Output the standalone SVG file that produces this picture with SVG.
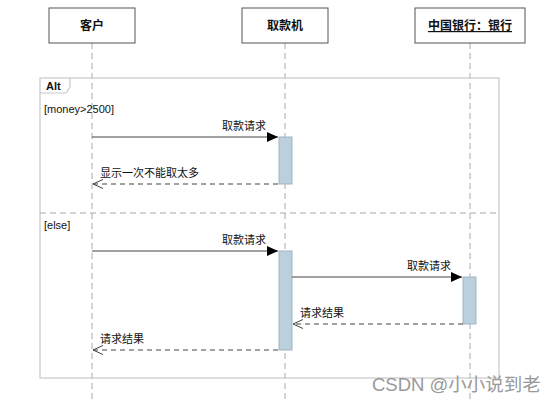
<svg xmlns="http://www.w3.org/2000/svg" width="558" height="402" viewBox="0 0 558 402">
<style>
.box{fill:#fff;stroke:#555;stroke-width:1}
.hd{font-family:"Liberation Sans","Noto Sans CJK SC",sans-serif;font-size:12px;font-weight:bold;fill:#111}
.t{font-family:"Liberation Sans","Noto Sans CJK SC",sans-serif;font-size:11px;fill:#111}
.life{stroke:#aaa;stroke-width:1;stroke-dasharray:6,4;fill:none}
.frame{fill:none;stroke:#c8c8c8;stroke-width:1.2}
.act{fill:#bccfdc;stroke:#9fb4c4;stroke-width:1}
.msg{stroke:#444;stroke-width:1;fill:none}
.ret{stroke:#444;stroke-width:1;stroke-dasharray:5,4;fill:none}
</style>
<defs>
<marker id="fill" markerWidth="12" markerHeight="12" refX="11" refY="6" orient="auto" markerUnits="userSpaceOnUse">
<path d="M0,1 L11,6 L0,11 Z" fill="#000"/>
</marker>
<marker id="open" markerWidth="12" markerHeight="12" refX="11" refY="6" orient="auto" markerUnits="userSpaceOnUse">
<path d="M1,1.5 L11,6 L1,10.5" fill="none" stroke="#444" stroke-width="1"/>
</marker>
</defs>
<rect width="558" height="402" fill="#fff"/>
<g id="lifelines">
<line class="life" x1="92" y1="43" x2="92" y2="402"/>
<line class="life" x1="285" y1="43" x2="285" y2="402"/>
<line class="life" x1="470" y1="43" x2="470" y2="402"/>
</g>
<g id="alt-frame">
<rect class="frame" x="40" y="78" width="459" height="300"/>
<path d="M40,93 L66,93 L70,87 L70,78" fill="none" stroke="#c8c8c8" stroke-width="1.2"/>
<text class="hd" x="46" y="90" style="font-size:11px">Alt</text>
<line x1="40" y1="213" x2="499" y2="213" stroke="#aaa" stroke-dasharray="6,4"/>
<text class="t" x="44" y="113">[money&gt;2500]</text>
<text class="t" x="44" y="229">[else]</text>
</g>
<g id="node-customer">
<rect class="box" x="49" y="8" width="86" height="35"/>
<text class="hd" x="92" y="30" text-anchor="middle">客户</text>
</g>
<g id="node-atm">
<rect class="box" x="242" y="8" width="86" height="35"/>
<text class="hd" x="285" y="30" text-anchor="middle">取款机</text>
</g>
<g id="node-bank">
<rect class="box" x="415" y="8" width="110" height="35"/>
<text class="hd" x="470" y="30" text-anchor="middle" text-decoration="underline">中国银行：银行</text>
</g>
<g id="activations">
<rect class="act" x="279" y="137" width="13" height="47"/>
<rect class="act" x="279" y="251" width="13" height="99"/>
<rect class="act" x="463" y="277" width="13" height="47"/>
</g>
<g id="connectors">
<line class="msg" x1="92" y1="137" x2="278" y2="137" marker-end="url(#fill)"/>
<text class="t" x="266" y="130" text-anchor="end">取款请求</text>
<line class="ret" x1="278" y1="184" x2="93" y2="184" marker-end="url(#open)"/>
<text class="t" x="100" y="177">显示一次不能取太多</text>
<line class="msg" x1="92" y1="251" x2="278" y2="251" marker-end="url(#fill)"/>
<text class="t" x="266" y="244" text-anchor="end">取款请求</text>
<line class="msg" x1="292" y1="277" x2="462" y2="277" marker-end="url(#fill)"/>
<text class="t" x="451" y="270" text-anchor="end">取款请求</text>
<line class="ret" x1="463" y1="324" x2="293" y2="324" marker-end="url(#open)"/>
<text class="t" x="300" y="317">请求结果</text>
<line class="ret" x1="278" y1="350" x2="93" y2="350" marker-end="url(#open)"/>
<text class="t" x="100" y="343">请求结果</text>
</g>
<text x="372" y="391" font-family="Liberation Sans,'Noto Sans CJK SC',sans-serif" font-size="18.5" fill="#999">CSDN @小小说到老</text>
</svg>
